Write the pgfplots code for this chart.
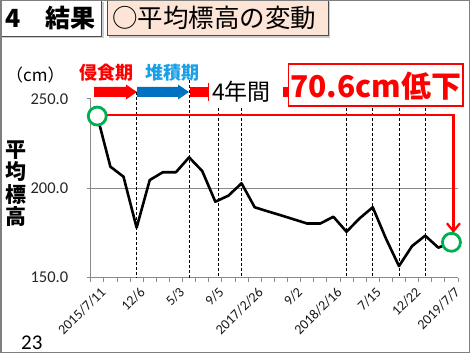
\documentclass[border=0pt]{standalone}
\usepackage{pgfplots}
\pgfplotsset{compat=1.18}
\usepackage{fontspec}
\usetikzlibrary{arrows.meta}
\setmainfont{Carlito}
\newfontfamily\jp{Noto Sans CJK JP}
\definecolor{axgray}{HTML}{898989}
\definecolor{slidegray}{HTML}{7F7F7F}
\definecolor{peach}{HTML}{FCE4D6}
\definecolor{mygreen}{HTML}{00B050}
\definecolor{arrblue}{HTML}{0070C0}
\definecolor{txtblue}{HTML}{1AA0E6}
\begin{document}
\begin{tikzpicture}[x=1pt,y=1pt]
\useasboundingbox (0,0) rectangle (470,353);
\fill[white] (0,0) rectangle (470,353);
% title boxes
\fill[gray!40] (2,351) rectangle (103.5,314.5);
\draw[fill=white, draw=black!70, line width=1pt] (0.5,353) rectangle (101.5,316.5);
\node[anchor=west, inner sep=0, font=\jp\bfseries\fontsize{25}{25}\selectfont] at (5,335) {4　結果};
\fill[gray!40] (109,351) rectangle (330,315);
\draw[fill=peach, draw=black!70, line width=1pt] (107,353) rectangle (328,317);
\node[anchor=west, inner sep=0, font=\jp\fontsize{25.5}{25.5}\selectfont] at (112,335) {○平均標高の変動};
% slide border
\draw[slidegray, line width=1.5pt] (0.75,0.75) rectangle (469.25,352.25);
% labels above chart
\node[anchor=west, inner sep=0, font=\jp\fontsize{17}{17}\selectfont] at (6,278) {（cm）};
\node[inner sep=0, text=red, font=\jp\bfseries\fontsize{18}{18}\selectfont] at (106,280) {侵食期};
\node[inner sep=0, text=txtblue, font=\jp\bfseries\fontsize{18}{18}\selectfont] at (172,280) {堆積期};
% period arrows
\fill[red] (94,256) -- (126,256) -- (126,253.5) -- (137,261) -- (126,268.5) -- (126,266) -- (94,266) -- cycle;
\fill[arrblue] (137,256) -- (178,256) -- (178,253.5) -- (189,261) -- (178,268.5) -- (178,266) -- (137,266) -- cycle;
\fill[red] (190,256) rectangle (208,266);
\draw[red, line width=1pt] (208,252) -- (208,270);
\node[anchor=west, inner sep=0, font=\jp\fontsize{23}{23}\selectfont] at (212,261) {4年間};
\fill[red] (283,256) rectangle (290,266);
% y label
\node[inner sep=0, align=center, font=\jp\bfseries\fontsize{21}{22.5}\selectfont] at (16,169.5) {平\\均\\標\\高};
% page number
\node[anchor=base west, inner sep=0, font=\fontsize{21}{21}\selectfont] at (21,4) {23};
\begin{axis}[
  at={(90.7pt,75.3pt)}, anchor=south west,
  width=367.3pt, height=178.8pt, scale only axis,
  xmin=-0.5, xmax=27.5, ymin=150, ymax=250,
  clip=false,
  axis x line*=bottom, axis y line*=left,
  axis line style={draw=axgray, line width=0.8pt},
  tick style={draw=axgray, line width=0.8pt},
  tick align=outside, major tick length=4pt, minor tick length=4pt,
  xtick={0,3,...,27},
  xticklabels={\mbox{2015/7/11},\mbox{12/6},\mbox{5/3},\mbox{9/5},\mbox{2017/2/26},\mbox{9/2},\mbox{2018/2/16},\mbox{7/15},\mbox{12/22},\mbox{2019/7/7}},
  every major x tick/.append style={draw=none},
  minor xtick={-0.5,0.5,...,27.5},
  xticklabel style={rotate=45, anchor=east, font=\fontsize{14}{14}\selectfont, text=black!90, xshift=2pt, yshift=-10pt},
  ytick={150,200,250},
  yticklabel style={font=\fontsize{16.5}{16.5}\selectfont, text=black!85, xshift=-15pt},
  /pgf/number format/assume math mode=true,
  y tick label style={/pgf/number format/.cd, fixed, fixed zerofill, precision=1},
]
\draw[axgray, line width=0.8pt] (axis cs:-0.5,200) -- (axis cs:27.5,200);
% period boundary dashed lines
\draw[black, line width=0.8pt, dash pattern=on 3pt off 2pt] (axis cs:3,254) -- (axis cs:3,150);
\draw[black, line width=0.8pt, dash pattern=on 3pt off 2pt] (axis cs:7,260.5) -- (axis cs:7,150);
\draw[black, line width=0.8pt, dash pattern=on 3pt off 2pt] (axis cs:9.2,245) -- (axis cs:9.2,150);
\draw[black, line width=0.8pt, dash pattern=on 3pt off 2pt] (axis cs:11,245) -- (axis cs:11,150);
\draw[black, line width=0.8pt, dash pattern=on 3pt off 2pt] (axis cs:19,245) -- (axis cs:19,150);
\draw[black, line width=0.8pt, dash pattern=on 3pt off 2pt] (axis cs:21,245) -- (axis cs:21,150);
\draw[black, line width=0.8pt, dash pattern=on 3pt off 2pt] (axis cs:23,245) -- (axis cs:23,150);
\draw[black, line width=0.8pt, dash pattern=on 3pt off 2pt] (axis cs:25,245) -- (axis cs:25,150);
% red annotation
\draw[red, line width=2.2pt, -{Straight Barb[length=8pt,width=13pt]}] (axis cs:0.75,241) -- (axis cs:27.15,241) -- (axis cs:27.15,175);
\addplot[black, line width=2.6pt, line join=round, mark=none] coordinates {
(0,240.4) (1,212.1) (2,206.5) (3,178.0) (4,204.6) (5,209.0) (6,209.0) (7,217.3)
(8,209.7) (9,192.5) (10,195.9) (11,202.8) (12,189.4) (13,187.1) (14,184.9) (15,182.6)
(16,180.3) (17,180.3) (18,184.1) (19,175.7) (20,183.2) (21,189.4) (22,172.0) (23,156.5)
(24,167.7) (25,173.5) (26,166.8) (27,169.8)
};
\addplot[only marks, mark=*, mark size=9pt, mark options={draw=mygreen, fill=white, line width=2.8pt}] coordinates {(0,240.4) (27,169.8)};
\end{axis}
% red box
\draw[red, fill=white, line width=1.3pt] (288.3,289) rectangle (463,247);
\node[inner sep=0, text=red, font=\jp\bfseries\fontsize{30}{30}\selectfont] at (375.8,267) {70.6cm低下};
\end{tikzpicture}
\end{document}
